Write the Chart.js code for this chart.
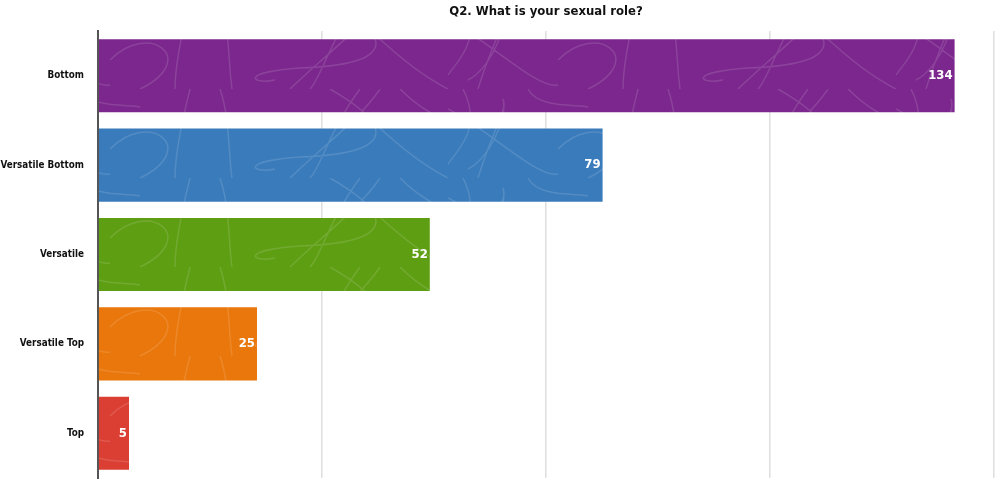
<!DOCTYPE html>
<html>
<head>
<meta charset="utf-8">
<title>Q2. What is your sexual role?</title>
<script src="https://cdn.jsdelivr.net/npm/chart.js@4"></script>
<style>
  html, body { margin: 0; padding: 0; background: #fff; }
  #wrap { width: 1000px; height: 482px; }
</style>
</head>
<body>
<div id="wrap"><canvas id="roleChart" width="1000" height="482"></canvas></div>
<script>
// chart data
const chartTitle = 'Q2. What is your sexual role?';
const roles = ['Bottom', 'Versatile Bottom', 'Versatile', 'Versatile Top', 'Top'];
const counts = [134, 79, 52, 25, 5];
const barColors = ['#7b278d', '#3a7bbb', '#5e9e13', '#ea770b', '#db3f33'];
const axisMax = 140;
const axisStep = 35;

const FONT = '"DejaVu Sans Condensed", "Liberation Sans Narrow", Roboto, sans-serif';

// scribble texture laid over each bar colour
function scribblePattern(ctx, color) {
    const tile = document.createElement('canvas');
    tile.width = 448;
    tile.height = 89;
    const t = tile.getContext('2d');
    t.fillStyle = color;
    t.fillRect(0, 0, tile.width, tile.height);
    t.strokeStyle = 'rgba(255,255,255,0.13)';
    t.lineWidth = 1.5;
    t.beginPath();
    t.moveTo(0, 20); t.bezierCurveTo(40, 40, 90, 90, 110, 85);
    t.moveTo(15, 0); t.bezierCurveTo(35, 40, 10, 60, 0, 75);
    t.moveTo(30, 89); t.bezierCurveTo(45, 40, 60, 20, 55, 10);
    t.moveTo(55, 10); t.bezierCurveTo(60, 30, 40, 70, 20, 80);
    t.moveTo(80, 0); t.bezierCurveTo(90, 20, 130, 15, 140, 18);
    t.moveTo(190, 0); t.bezierCurveTo(180, 40, 175, 70, 175, 89);
    t.moveTo(220, 0); t.bezierCurveTo(230, 30, 228, 60, 232, 89);
    t.moveTo(290, 89); t.bezierCurveTo(320, 60, 360, 30, 380, 0);
    t.moveTo(360, 0); t.bezierCurveTo(330, 40, 320, 80, 310, 89);
    t.moveTo(330, 0); t.bezierCurveTo(400, 40, 390, 65, 300, 68);
    t.moveTo(300, 68); t.bezierCurveTo(240, 72, 250, 85, 275, 80);
    t.moveTo(360, 20); t.bezierCurveTo(400, 60, 430, 80, 448, 89);
    t.moveTo(400, 0); t.bezierCurveTo(420, 20, 440, 30, 448, 30);
    t.moveTo(110, 60); t.bezierCurveTo(150, 20, 200, 60, 140, 89);
    t.stroke();
    return ctx.createPattern(tile, 'repeat');
}

// value written in white at the end of each bar
const barValues = {
    id: 'barValues',
    afterDatasetsDraw(chart) {
        const ctx = chart.ctx;
        const meta = chart.getDatasetMeta(0);
        ctx.save();
        ctx.fillStyle = '#ffffff';
        ctx.font = 'bold 13px ' + FONT;
        ctx.textAlign = 'right';
        ctx.textBaseline = 'middle';
        meta.data.forEach((bar, i) => {
            ctx.fillText(String(chart.data.datasets[0].data[i]), bar.x - 3, bar.y);
        });
        ctx.restore();
    }
};

// title centred over the plot area rather than the whole canvas
const areaTitle = {
    id: 'areaTitle',
    afterDraw(chart) {
        const ctx = chart.ctx;
        const area = chart.chartArea;
        ctx.save();
        ctx.fillStyle = '#111';
        ctx.font = 'bold 13px ' + FONT;
        ctx.textAlign = 'center';
        ctx.textBaseline = 'middle';
        ctx.fillText(chartTitle, (area.left + area.right) / 2, 12);
        ctx.restore();
    }
};

const canvas = document.getElementById('roleChart');
const ctx = canvas.getContext('2d');

new Chart(ctx, {
    type: 'bar',
    data: {
        labels: roles,
        datasets: [{
            data: counts,
            backgroundColor: barColors.map(c => scribblePattern(ctx, c)),
            borderColor: 'rgba(255,255,255,0.25)',
            borderWidth: 1,
            barPercentage: 0.84,
            categoryPercentage: 1
        }]
    },
    options: {
        indexAxis: 'y',
        responsive: false,
        animation: false,
        layout: { padding: { top: 31, right: 6, bottom: 4, left: 0 } },
        plugins: {
            legend: { display: false },
            title: { display: false },
            tooltip: { enabled: false }
        },
        scales: {
            x: {
                min: 0,
                max: axisMax,
                ticks: { display: false, stepSize: axisStep },
                grid: { color: '#dedede', lineWidth: 1.5, drawTicks: false },
                border: { display: false },
                afterFit(scale) { scale.height = 0; }
            },
            y: {
                grid: { display: false, drawTicks: false },
                border: { color: '#555', width: 2 },
                ticks: {
                    color: '#111',
                    padding: 14,
                    font: { family: FONT, size: 9.8, weight: 'bold' }
                },
                afterFit(scale) {
                    scale.width = 98;
                    scale.paddingTop = 0;
                    scale.paddingBottom = 0;
                }
            }
        }
    },
    plugins: [barValues, areaTitle]
});
</script>
</body>
</html>
